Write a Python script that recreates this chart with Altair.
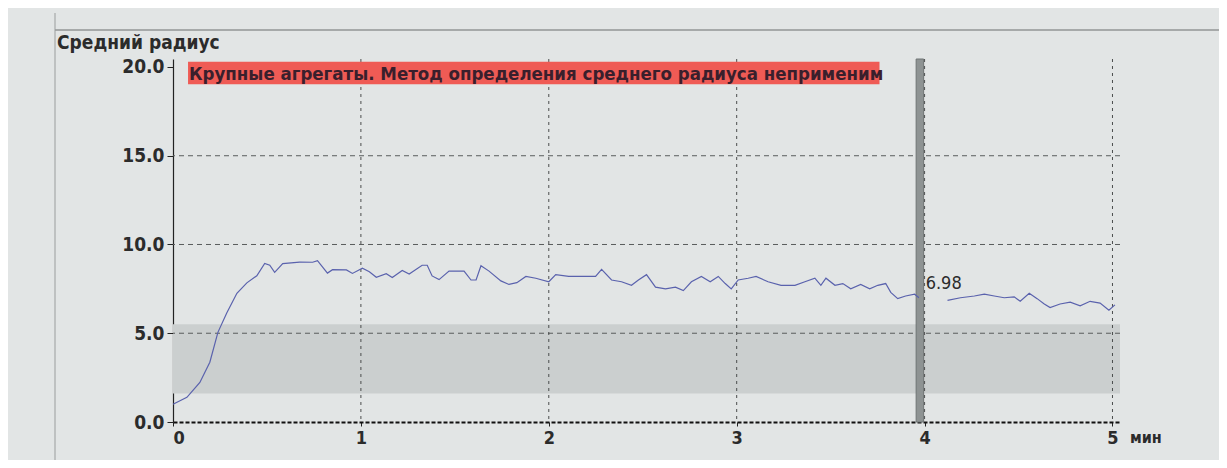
import altair as alt
import pandas as pd

# ---- data ----
time_min = [0.000, 0.074, 0.143, 0.196, 0.239, 0.286, 0.340, 0.393, 0.446, 0.488,
            0.515, 0.541, 0.584, 0.674, 0.743, 0.769, 0.822, 0.849, 0.923, 0.955,
            1.008, 1.045, 1.082, 1.135, 1.167, 1.220, 1.257, 1.326, 1.353, 1.379,
            1.416, 1.469, 1.549, 1.586, 1.613, 1.639, 1.682, 1.745, 1.788, 1.830,
            1.878, 1.931, 2.000, 2.037, 2.106, 2.175, 2.249, 2.281, 2.334, 2.387,
            2.440, 2.477, 2.520, 2.568, 2.621, 2.674, 2.716, 2.759, 2.812, 2.859,
            2.902, 2.939, 2.971, 3.008, 3.061, 3.103, 3.167, 3.236, 3.310, 3.363,
            3.416, 3.448, 3.475, 3.523, 3.565, 3.607, 3.660, 3.708, 3.751, 3.793,
            3.820, 3.857, 3.899, 3.947, 3.970,
            4.122, 4.191, 4.265, 4.318, 4.371, 4.424, 4.477, 4.509, 4.557, 4.599,
            4.637, 4.668, 4.721, 4.775, 4.828, 4.881, 4.934, 4.981, 5.013]
radius = [1.00, 1.39, 2.23, 3.37, 5.05, 6.14, 7.25, 7.84, 8.24, 8.93,
          8.83, 8.43, 8.92, 9.01, 9.00, 9.09, 8.39, 8.58, 8.57, 8.37,
          8.66, 8.46, 8.15, 8.35, 8.14, 8.54, 8.34, 8.83, 8.83, 8.23,
          8.02, 8.50, 8.50, 8.00, 8.00, 8.80, 8.50, 7.95, 7.75, 7.85,
          8.20, 8.10, 7.90, 8.30, 8.20, 8.20, 8.20, 8.60, 8.00, 7.90,
          7.70, 8.00, 8.30, 7.60, 7.50, 7.60, 7.40, 7.90, 8.20, 7.90,
          8.20, 7.80, 7.50, 8.00, 8.10, 8.20, 7.90, 7.70, 7.70, 7.90,
          8.10, 7.70, 8.10, 7.70, 7.80, 7.50, 7.75, 7.50, 7.70, 7.80,
          7.30, 6.95, 7.10, 7.20, 7.00,
          6.85, 7.00, 7.10, 7.20, 7.10, 7.00, 7.05, 6.80, 7.25, 6.95,
          6.65, 6.45, 6.65, 6.75, 6.55, 6.80, 6.70, 6.30, 6.60]
segment = [1] * 85 + [2] * 19

x_ticks = [0, 1, 2, 3, 4, 5]
y_ticks = [0, 5, 10, 15, 20]
grid_x = [1, 2, 3, 4, 5]
grid_y = [5, 10, 15]

band_low, band_high = 1.6, 5.5
cursor_t = [3.955, 3.995]
cursor_value = "6.98"
warning = "Крупные агрегаты. Метод определения среднего радиуса неприменим"
y_title = "Средний радиус"
x_unit = "мин"

X_MAX = 5.04
Y_MAX = 20.45
W, H = 947, 363

FONT = "DejaVu Sans Condensed"
TXT = "#2b2b2b"

xs = alt.Scale(domain=[0, X_MAX], nice=False, zero=False)
ys = alt.Scale(domain=[0, Y_MAX], nice=False, zero=False)

x_axis = alt.Axis(
    values=x_ticks, format="d", title=None, grid=False,
    domainColor="#111111", domainDash=[4, 2], domainWidth=2,
    tickColor="#222222", tickSize=4, labelPadding=3,
    labelFont=FONT, labelFontSize=18, labelFontWeight="bold", labelColor=TXT)
y_axis = alt.Axis(
    values=y_ticks, format=".1f", title=None, grid=False,
    domainColor="#222222", domainWidth=1.2,
    tickColor="#222222", tickSize=6, labelPadding=3,
    labelFont=FONT, labelFontSize=19, labelFontWeight="bold", labelColor=TXT)


def X(f):
    return alt.X(f, scale=xs, axis=x_axis, title=None)


def Y(f):
    return alt.Y(f, scale=ys, axis=y_axis, title=None)


df = pd.DataFrame({"t": time_min, "r": radius, "seg": segment})

band = alt.Chart(pd.DataFrame({"a": [0], "b": [X_MAX], "lo": [band_low], "hi": [band_high]})).mark_rect(
    color="#cbcfcf").encode(x=X("a:Q"), x2="b:Q", y=Y("lo:Q"), y2="hi:Q")

cursor = alt.Chart(pd.DataFrame({"a": [cursor_t[0]], "b": [cursor_t[1]], "lo": [0], "hi": [Y_MAX]})).mark_rect(
    color="#8e9393", stroke="#6f7474", strokeWidth=1).encode(
    x=X("a:Q"), x2="b:Q", y=Y("lo:Q"), y2="hi:Q")

hgrid = alt.Chart(pd.DataFrame({"g": grid_y})).mark_rule(
    color="#5a5d5d", strokeDash=[5, 4], strokeWidth=1).encode(y=Y("g:Q"))

vgrid = alt.Chart(pd.DataFrame({"g": grid_x})).mark_rule(
    color="#4a4d4d", strokeDash=[3, 4], strokeWidth=1).encode(x=X("g:Q"))

line = alt.Chart(df).mark_line(color="#5a62ad", strokeWidth=1.2).encode(
    x=X("t:Q"), y=Y("r:Q"), detail="seg:N")

warn_box = alt.Chart(pd.DataFrame({"a": [0.08], "b": [3.76], "lo": [19.03], "hi": [20.3]})).mark_rect(
    color="#ef5b55").encode(x=X("a:Q"), x2="b:Q", y=Y("lo:Q"), y2="hi:Q")

warn_txt = alt.Chart(pd.DataFrame({"a": [0.085], "m": [19.62], "s": [warning]})).mark_text(
    align="left", baseline="middle", font=FONT, fontSize=18.5, fontWeight="bold",
    color="#3a1f2c").encode(x=X("a:Q"), y=Y("m:Q"), text="s:N")

val_txt = alt.Chart(pd.DataFrame({"a": [cursor_t[1]], "m": [7.75], "s": [cursor_value]})).mark_text(
    align="left", baseline="middle", dx=2, font=FONT, fontSize=18, color=TXT).encode(
    x=X("a:Q"), y=Y("m:Q"), text="s:N")

title_txt = alt.Chart(pd.DataFrame({"s": [y_title]})).mark_text(
    align="left", baseline="alphabetic", font=FONT, fontSize=19, fontWeight="bold",
    color=TXT).encode(x=alt.value(-116), y=alt.value(-10), text="s:N")

unit_txt = alt.Chart(pd.DataFrame({"s": [x_unit]})).mark_text(
    align="left", baseline="middle", font=FONT, fontSize=16, fontWeight="bold",
    color=TXT).encode(x=alt.value(W + 10), y=alt.value(H + 16), text="s:N")

frame_h = alt.Chart(pd.DataFrame({"k": [0]})).mark_rule(color="#6b6e6e", strokeWidth=1.2).encode(
    x=alt.value(-118), x2=alt.value(W + 100), y=alt.value(-29))
frame_v = alt.Chart(pd.DataFrame({"k": [0]})).mark_rule(color="#9a9d9d", strokeWidth=1).encode(
    x=alt.value(-118), y=alt.value(-46), y2=alt.value(H + 45))

chart = alt.layer(
    band, hgrid, vgrid, cursor, line, warn_box, warn_txt, val_txt,
    title_txt, unit_txt, frame_h, frame_v
).properties(
    width=W, height=H,
    padding={"left": 165, "top": 51, "right": 99, "bottom": 38},
    autosize=alt.AutoSizeParams(type="none"),
    background="#e2e5e5",
).configure_view(stroke=None)

chart.save("out.html", embed_options={"renderer": "svg", "actions": False})
